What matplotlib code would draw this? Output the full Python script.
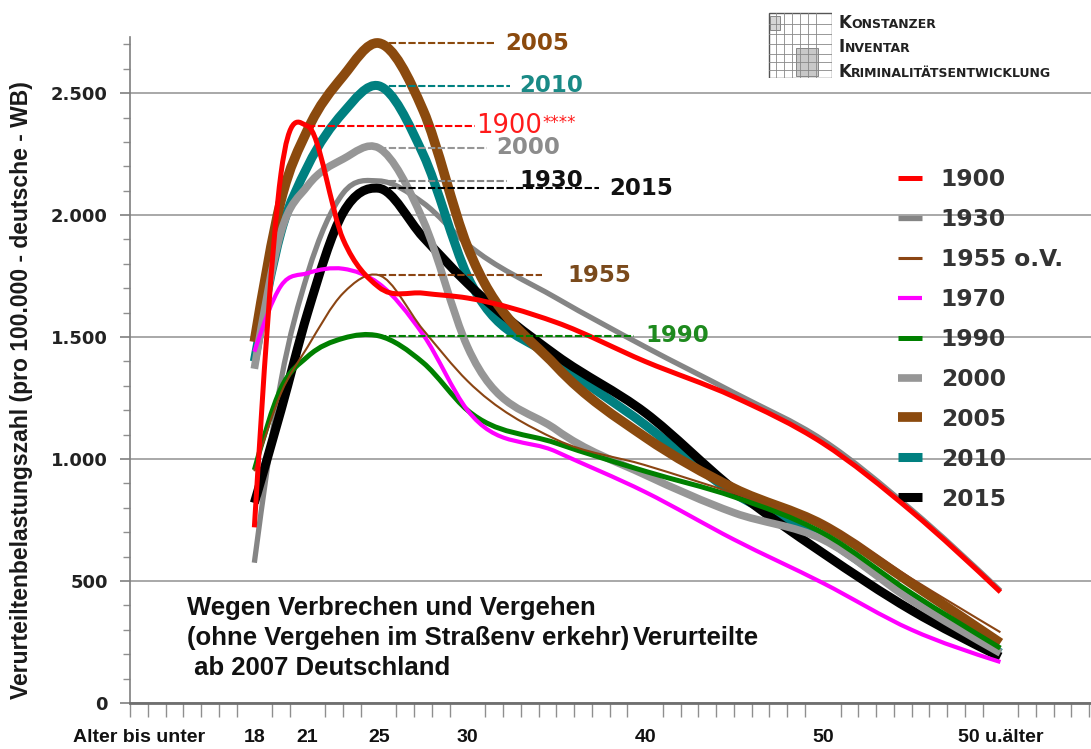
import numpy as np
import matplotlib
matplotlib.use("Agg")
import matplotlib.pyplot as plt
import matplotlib.ticker as mticker
from matplotlib.path import Path
from matplotlib.patches import PathPatch, Rectangle
from matplotlib.lines import Line2D

plt.rcParams["font.family"] = ["DejaVu Sans"]

# --- data ---
AGES = [18, 19.5, 21, 23, 25, 27.5, 30, 35, 40, 45, 50, 55, 60]
TICK_AGES = [11.5, 18, 21, 25, 30, 40, 50, 60]
TICK_LABELS = ["Alter bis unter", "18", "21", "25", "30", "40", "50", "50 u.älter"]

V1900 = [720, 2170, 2365, 1900, 1705, 1680, 1660, 1560, 1400, 1255, 1065, 785, 455]
V1930 = [575, 1320, 1760, 2090, 2140, 2050, 1880, 1660, 1460, 1272, 1078, 792, 460]
V1955 = [950, 1270, 1460, 1680, 1754, 1530, 1320, 1080, 975, 860, 740, 510, 290]
V1970 = [1440, 1710, 1762, 1780, 1720, 1510, 1200, 1030, 865, 670, 492, 300, 168]
V1990 = [955, 1290, 1420, 1495, 1505, 1395, 1200, 1065, 950, 845, 697, 450, 225]
V2000 = [1370, 1930, 2120, 2230, 2275, 1979, 1460, 1120, 935, 780, 670, 420, 205]
V2005 = [1480, 2060, 2350, 2570, 2705, 2430, 1870, 1380, 1090, 880, 730, 490, 246]
V2010 = [1400, 1930, 2200, 2420, 2530, 2250, 1750, 1405, 1140, 860, 680, 430, 205]
V2015 = [820, 1200, 1600, 2010, 2110, 1910, 1720, 1425, 1190, 875, 615, 380, 189]

LEGEND_NAMES = ["1900", "1930", "1955 o.V.", "1970", "1990", "2000", "2005", "2010", "2015"]

# style per series: colour, line width, z-order
STYLE = {
    "1900": ("#ff0000", 3.6, 9),
    "1930": ("#858585", 3.8, 1),
    "1955 o.V.": ("#8b4513", 1.5, 8),
    "1970": ("#ff00ff", 3.0, 7),
    "1990": ("#008000", 3.6, 6),
    "2000": ("#969696", 5.5, 5),
    "2005": ("#8b4a0e", 7.0, 4),
    "2010": ("#008080", 6.5, 2),
    "2015": ("#000000", 6.5, 3),
}
SERIES = dict(zip(LEGEND_NAMES, [V1900, V1930, V1955, V1970, V1990, V2000, V2005, V2010, V2015]))

# peak labels: (text, colour, weight, dash end age, text start age)
PEAK_LABELS = {
    "2005": ("2005", "#8b4a0e", "bold", 31.6, 32.1),
    "2010": ("2010", "#1a8a86", "bold", 32.4, 32.9),
    "1900": ("1900", "#ff1a1a", "normal", 30.4, 30.5),
    "2000": ("2000", "#8c8c8c", "bold", 31.1, 31.6),
    "1930": ("1930", "#111111", "bold", 32.2, 32.9),
    "2015": ("2015", "#111111", "bold", 37.4, 38.0),
    "1955 o.V.": ("1955", "#7a4a1c", "bold", 34.2, 35.6),
    "1990": ("1990", "#1e8a1e", "bold", 39.4, 40.0),
}


def smooth_path(xs, ys):
    """Glatte Kurve durch die Punkte (kubisch, als Bezier-Pfad)."""
    x = np.asarray(xs, float)
    y = np.asarray(ys, float)
    h = np.diff(x)
    d = np.diff(y) / h
    m = np.empty_like(y)
    m[1:-1] = (d[:-1] * h[1:] + d[1:] * h[:-1]) / (h[:-1] + h[1:])
    m[0] = (3 * d[0] - m[1]) / 2
    m[-1] = (3 * d[-1] - m[-2]) / 2
    verts = [(x[0], y[0])]
    codes = [Path.MOVETO]
    for i in range(len(x) - 1):
        t = h[i] / 3
        verts += [(x[i] + t, y[i] + m[i] * t), (x[i + 1] - t, y[i + 1] - m[i + 1] * t),
                  (x[i + 1], y[i + 1])]
        codes += [Path.CURVE4] * 3
    return Path(verts, codes)


W, H = 1091, 749
fig = plt.figure(figsize=(W / 100, H / 100), dpi=100)
fig.patch.set_facecolor("white")
ax = fig.add_axes([130 / W, 1 - 703 / H, 1 - 130 / W, (703 - 37) / H])

for name in LEGEND_NAMES:
    color, lw, z = STYLE[name]
    patch = PathPatch(smooth_path(AGES, SERIES[name]), fill=False, edgecolor=color,
                      lw=lw, capstyle="butt", joinstyle="round", zorder=z + 2)
    ax.add_patch(patch)

# dashed peak markers with labels
for name, (txt, tcol, weight, x_end, x_txt) in PEAK_LABELS.items():
    vals = SERIES[name]
    peak = max(vals)
    x0 = AGES[vals.index(peak)]
    lcol = STYLE[name][0]
    ax.plot([x0, x_end], [peak, peak], color=lcol, lw=1.5, dashes=(3.5, 1.2), zorder=20)
    if name == "1900":
        t = ax.text(x_txt, peak, txt, color=tcol, fontsize=18.5, fontweight=weight,
                    va="center", ha="left", zorder=21)
        ax.annotate("****", xy=(1, 0.6), xycoords=t, color=tcol, fontsize=12,
                    va="center", ha="left", zorder=21)
    else:
        ax.text(x_txt, peak, txt, color=tcol, fontsize=16.5, fontweight=weight,
                va="center", ha="left", zorder=21)

ax.set_xlim(11, 65.1)
ax.set_ylim(0, 2730)

ax.yaxis.set_major_locator(mticker.MultipleLocator(500))
ax.yaxis.set_minor_locator(mticker.MultipleLocator(100))
ax.yaxis.set_major_formatter(mticker.FuncFormatter(lambda v, p: f"{int(v):,}".replace(",", ".")))
ax.tick_params(axis="y", which="major", direction="out", length=7, width=1.2, color="#7f7f7f",
               pad=9, labelsize=13, labelcolor="#222222")
ax.tick_params(axis="y", which="minor", direction="out", length=5, width=1, color="#8f8f8f")
for lbl in ax.get_yticklabels():
    lbl.set_fontweight("bold")

ax.set_xticks(TICK_AGES)
ax.set_xticklabels(TICK_LABELS, fontsize=14, fontweight="bold",
                   family=["Liberation Sans Narrow", "Liberation Sans", "DejaVu Sans"], color="#111111")
ax.set_xticks(np.arange(11, 66), minor=True)
ax.tick_params(axis="x", which="major", length=0, pad=19)
ax.tick_params(axis="x", which="minor", direction="out", length=10, width=1, color="#8f8f8f")

ax.yaxis.grid(True, which="major", color="#a8a8a8", lw=1.4)
ax.set_axisbelow(True)
for side in ["top", "right"]:
    ax.spines[side].set_visible(False)
ax.spines["left"].set_color("#7f7f7f")
ax.spines["left"].set_linewidth(1.2)
ax.spines["bottom"].set_color("#6f6f6f")
ax.spines["bottom"].set_linewidth(2)

fig.text(22 / W, 1 - 390 / H, "Verurteiltenbelastungszahl (pro 100.000 - deutsche - WB)",
         rotation=90, ha="center", va="center", fontsize=16.5, fontweight="bold",
         family=["Liberation Sans", "DejaVu Sans"], color="#1a1a1a")

# legend
handles = [Line2D([], [], color=STYLE[n][0], lw=STYLE[n][1] if n != "1955 o.V." else 2.2,
                  solid_capstyle="butt") for n in LEGEND_NAMES]
ax.legend(handles, LEGEND_NAMES, loc="upper left", bbox_to_anchor=(898 / W, 1 - 168 / H),
          bbox_transform=fig.transFigure, frameon=False, borderpad=0, borderaxespad=0,
          prop={"size": 16.8, "weight": "bold"}, labelcolor="#333333",
          handlelength=1.03, handletextpad=0.8, labelspacing=0.726)

# text block bottom left
txt_kw = dict(fontsize=18.5, fontweight="bold", family=["Liberation Sans", "DejaVu Sans"],
              color="#111111", va="center", ha="left")
fig.text(187 / W, 1 - 608 / H, "Wegen Verbrechen und Vergehen", **txt_kw)
fig.text(187 / W, 1 - 638 / H, "(ohne Vergehen im Straßenv erkehr)", **txt_kw)
fig.text(633 / W, 1 - 638 / H, "Verurteilte", **txt_kw)
fig.text(187 / W, 1 - 668 / H, " ab 2007 Deutschland", **txt_kw)

# KIK logo (top right)
lax = fig.add_axes([768 / W, 1 - 78 / H, 64 / W, 66 / H])
lax.set_xlim(0, 64)
lax.set_ylim(0, 66)
lax.axis("off")
lax.add_patch(Rectangle((0.5, 0.5), 63, 65, fill=False, ec="#555555", lw=1))
for xv in [8, 16, 24, 32, 40, 48]:
    lax.plot([xv, xv], [0.5, 65.5], color="#888888", lw=0.6)
for yv in [8, 16, 24, 34, 44, 54]:
    lax.plot([0.5, 63.5], [yv, yv], color="#888888", lw=0.6)
lax.add_patch(Rectangle((28, 2), 22, 28, fc="#c8c8c8", ec="#777777", lw=0.6))
lax.add_patch(Rectangle((2, 48), 10, 14, fc="#d5d5d5", ec="#777777", lw=0.6))

logo_kw = dict(fontweight="bold", color="#222222", va="baseline", ha="left")
for big, rest, y_base, dx in [("K", "ONSTANZER", 28, 13), ("I", "NVENTAR", 52, 7),
                              ("K", "RIMINALITÄTSENTWICKLUNG", 77, 13)]:
    fig.text(838 / W, 1 - y_base / H, big, fontsize=12, **logo_kw)
    fig.text((838 + dx) / W, 1 - y_base / H, rest, fontsize=9, **logo_kw)

fig.savefig("out.png", dpi=100, facecolor="white")
